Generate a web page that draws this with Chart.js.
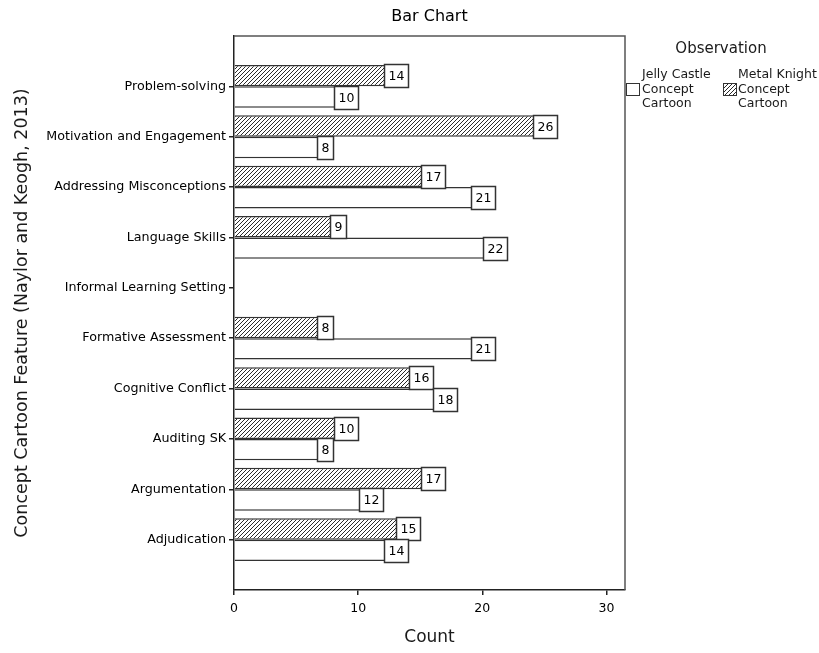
<!DOCTYPE html>
<html>
<head>
<meta charset="utf-8">
<script src="https://cdn.jsdelivr.net/npm/chart.js@4/dist/chart.umd.min.js"></script>
<style>
  html, body { margin: 0; padding: 0; background: #fff; }
  #wrap { width: 819px; height: 653px; position: relative; }
</style>
</head>
<body>
<div id="wrap"><canvas id="c" width="819" height="653"></canvas></div>
<script>
// Concept cartoon features, listed top to bottom
const categories = [
  'Problem-solving',
  'Motivation and Engagement',
  'Addressing Misconceptions',
  'Language Skills',
  'Informal Learning Setting',
  'Formative Assessment',
  'Cognitive Conflict',
  'Auditing SK',
  'Argumentation',
  'Adjudication'
];
// Observation counts per cartoon (null = no observation)
const metalKnight = [14, 26, 17, 9, null, 8, 16, 10, 17, 15];
const jellyCastle = [10, 8, 21, 22, null, 21, 18, 8, 12, 14];
const seriesLines = {
  jelly: ['Jelly Castle', 'Concept', 'Cartoon'],
  metal: ['Metal Knight', 'Concept', 'Cartoon']
};
const countTicks = [0, 10, 20, 30];

const FONT = '"DejaVu Sans", Verdana, sans-serif';
const INK = '#1a1a1a';
const EDGE = '#333';

function hatchPattern() {
  const s = 4;
  const c = document.createElement('canvas');
  c.width = s; c.height = s;
  const g = c.getContext('2d');
  g.fillStyle = '#fff';
  g.fillRect(0, 0, s, s);
  g.strokeStyle = '#2a2a2a';
  g.lineWidth = 1;
  g.beginPath();
  g.moveTo(-1, s + 1); g.lineTo(s + 1, -1);
  g.moveTo(-1, 1); g.lineTo(1, -1);
  g.moveTo(s - 1, s + 1); g.lineTo(s + 1, s - 1);
  g.stroke();
  return g.createPattern(c, 'repeat');
}
const hatch = hatchPattern();

function points(values) {
  return values
    .map((v, i) => ({ x: v, y: i }))
    .filter(p => p.x !== null);
}

// Frame, title, value boxes and legend
const decor = {
  id: 'decor',
  afterDatasetsDraw(chart) {
    const ctx = chart.ctx;
    ctx.save();
    ctx.font = '12.5px ' + FONT;
    ctx.textAlign = 'center';
    ctx.textBaseline = 'middle';
    chart.data.datasets.forEach((ds, di) => {
      const meta = chart.getDatasetMeta(di);
      meta.data.forEach((bar, j) => {
        const v = ds.data[j].x;
        const txt = String(v);
        const w = Math.round(ctx.measureText(txt).width) + 8;
        const h = 23;
        const x1 = Math.round(bar.x) + 0.5;
        const y0 = Math.round(bar.y - h / 2) + 0.5;
        ctx.fillStyle = '#fff';
        ctx.fillRect(x1 - w, y0, w, h);
        ctx.strokeStyle = EDGE;
        ctx.lineWidth = 1.5;
        ctx.strokeRect(x1 - w, y0, w, h);
        ctx.fillStyle = '#000';
        ctx.fillText(txt, x1 - w / 2, y0 + h / 2 + 0.5);
      });
    });
    ctx.restore();
  },
  afterDraw(chart) {
    const ctx = chart.ctx;
    const a = chart.chartArea;
    ctx.save();
    // top and right edges of the plot frame
    ctx.strokeStyle = '#555';
    ctx.lineWidth = 1.5;
    ctx.beginPath();
    ctx.moveTo(a.left, a.top);
    ctx.lineTo(a.right, a.top);
    ctx.lineTo(a.right, a.bottom);
    ctx.stroke();

    // chart title
    ctx.fillStyle = '#000';
    ctx.font = '16px ' + FONT;
    ctx.textAlign = 'center';
    ctx.textBaseline = 'middle';
    ctx.fillText('Bar Chart', (a.left + a.right) / 2, 17);

    // legend
    ctx.fillStyle = INK;
    ctx.font = '15px ' + FONT;
    ctx.fillText('Observation', 721, 49);
    ctx.font = '12.5px ' + FONT;
    ctx.textAlign = 'left';
    const items = [
      { lines: seriesLines.jelly, fill: '#fff', sx: 626, tx: 642 },
      { lines: seriesLines.metal, fill: hatch, sx: 723, tx: 738 }
    ];
    items.forEach(it => {
      ctx.fillStyle = it.fill;
      ctx.fillRect(it.sx, 83, 13, 12);
      ctx.strokeStyle = EDGE;
      ctx.lineWidth = 1;
      ctx.strokeRect(it.sx + 0.5, 83.5, 13, 12);
      ctx.fillStyle = INK;
      it.lines.forEach((ln, k) => ctx.fillText(ln, it.tx, 75 + k * 14.5));
    });
    ctx.restore();
  }
};

new Chart(document.getElementById('c'), {
  type: 'bar',
  data: {
    datasets: [
      {
        label: seriesLines.metal.join(' '),
        data: points(metalKnight),
        backgroundColor: hatch,
        borderColor: EDGE,
        borderWidth: 1.5
      },
      {
        label: seriesLines.jelly.join(' '),
        data: points(jellyCastle),
        backgroundColor: '#fff',
        borderColor: EDGE,
        borderWidth: 1.5
      }
    ]
  },
  options: {
    indexAxis: 'y',
    responsive: false,
    animation: false,
    events: [],
    categoryPercentage: 0.85,
    barPercentage: 1.0,
    layout: { padding: { top: 36, right: 194, left: 0, bottom: 0 } },
    plugins: { legend: { display: false }, tooltip: { enabled: false } },
    scales: {
      x: {
        type: 'linear',
        min: 0,
        max: 31.5,
        afterBuildTicks: s => { s.ticks = countTicks.map(v => ({ value: v })); },
        afterFit: s => { s.height = 63; },
        border: { color: '#222', width: 1.5 },
        grid: { drawOnChartArea: false, tickLength: 5, color: '#222', lineWidth: 1.5 },
        ticks: { color: '#000', font: { family: FONT, size: 12.5 }, padding: 6, maxRotation: 0 },
        title: { display: true, text: 'Count', color: INK, font: { family: FONT, size: 17 }, padding: { bottom: 5, top: 0 } }
      },
      y: {
        type: 'linear',
        reverse: true,
        offset: false,
        min: -1,
        max: categories.length,
        afterBuildTicks: s => { s.ticks = categories.map((c, i) => ({ value: i })); },
        afterFit: s => { s.width = 234; },
        border: { color: '#222', width: 1.5 },
        grid: { drawOnChartArea: false, tickLength: 5, color: '#222', lineWidth: 1.5, offset: false },
        ticks: {
          color: '#000',
          font: { family: FONT, size: 12.7 },
          padding: 3,
          autoSkip: false,
          callback: v => categories[v] ?? ''
        },
        title: {
          display: true,
          text: 'Concept Cartoon Feature (Naylor and Keogh, 2013)',
          color: INK,
          font: { family: FONT, size: 17.5 },
          padding: { top: 12, bottom: 0 }
        }
      }
    }
  },
  plugins: [decor]
});
</script>
</body>
</html>
